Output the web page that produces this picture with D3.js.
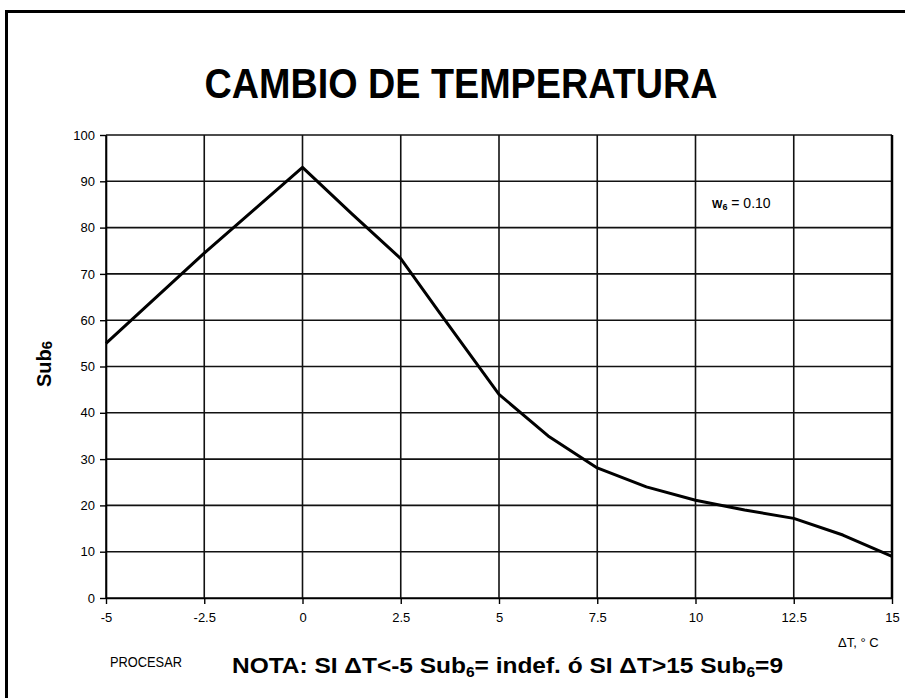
<!DOCTYPE html>
<html>
<head>
<meta charset="utf-8">
<script src="https://cdn.jsdelivr.net/npm/d3@7"></script>
<style>
    body { margin: 0; background: #fff; }
    .tick text { font-family: "Liberation Sans Narrow", "Arial Narrow", "Liberation Sans", sans-serif; font-size: 13px; fill: #000; }
</style>
</head>
<body>
<div id="chart"></div>
<script>
//chart values
const deltaT = [-5, -2.5, 0, 1.25, 2.5, 3.5, 5, 6.25, 7.5, 8.75, 10, 11.25, 12.5, 13.75, 15];
const sub6 = [55, 74.5, 93, 83, 73.3, 61.5, 44, 35, 28.1, 24, 21.1, 19, 17.2, 13.6, 9];
const xTicks = [-5, -2.5, 0, 2.5, 5, 7.5, 10, 12.5, 15];
const yTicks = [0, 10, 20, 30, 40, 50, 60, 70, 80, 90, 100];

const width = 905;
const height = 698;
const margin = { top: 135, left: 106, right: 13, bottom: 100 };

const svg = d3.select("#chart")
    .append("svg")
    .attr("width", width)
    .attr("height", height);

//outer frame (only left and top visible in the picture)
svg.append("rect")
    .attr("x", 6.5)
    .attr("y", 11.5)
    .attr("width", 920)
    .attr("height", 720)
    .attr("fill", "none")
    .attr("stroke", "#000")
    .attr("stroke-width", 3);

const xScale = d3.scaleLinear()
    .domain([-5, 15])
    .range([margin.left, width - margin.right]);

const yScale = d3.scaleLinear()
    .domain([0, 100])
    .range([height - margin.bottom, margin.top]);

//grid
svg.append("g")
    .selectAll("line")
    .data(yTicks)
    .enter()
    .append("line")
    .attr("x1", xScale(-5))
    .attr("x2", xScale(15))
    .attr("y1", d => yScale(d))
    .attr("y2", d => yScale(d))
    .attr("stroke", "#111")
    .attr("stroke-width", 1.6);

svg.append("g")
    .selectAll("line")
    .data(xTicks)
    .enter()
    .append("line")
    .attr("x1", d => xScale(d))
    .attr("x2", d => xScale(d))
    .attr("y1", yScale(0))
    .attr("y2", yScale(100))
    .attr("stroke", "#111")
    .attr("stroke-width", 1.6);

//axes
const xAxis = svg.append("g")
    .attr("transform", `translate(0,${yScale(0)})`)
    .call(d3.axisBottom(xScale).tickValues(xTicks).tickSizeInner(6).tickSizeOuter(0).tickPadding(9).tickFormat(d => d));

const yAxis = svg.append("g")
    .attr("transform", `translate(${xScale(-5)},0)`)
    .call(d3.axisLeft(yScale).tickValues(yTicks).tickSizeInner(6).tickSizeOuter(0).tickPadding(5));

svg.selectAll(".domain").attr("stroke", "#000").attr("stroke-width", 1.6);
svg.selectAll(".tick line").attr("stroke", "#000").attr("stroke-width", 1.4);

//right edge of plot is a bit heavier
svg.append("line")
    .attr("x1", xScale(15))
    .attr("x2", xScale(15))
    .attr("y1", yScale(100))
    .attr("y2", yScale(0))
    .attr("stroke", "#000")
    .attr("stroke-width", 2.5);

//the curve
const line = d3.line()
    .x((d, i) => xScale(deltaT[i]))
    .y(d => yScale(d));

svg.append("path")
    .datum(sub6)
    .attr("d", line)
    .attr("fill", "none")
    .attr("stroke", "#000")
    .attr("stroke-width", 3)
    .attr("stroke-linejoin", "round");

//texts
svg.append("text")
    .attr("x", 461)
    .attr("y", 98)
    .attr("text-anchor", "middle")
    .attr("font-family", "Liberation Sans, Arial, sans-serif")
    .attr("font-weight", "bold")
    .attr("font-size", 42)
    .attr("textLength", 513)
    .attr("lengthAdjust", "spacingAndGlyphs")
    .text("CAMBIO DE TEMPERATURA");

const yLabel = svg.append("text")
    .attr("transform", "translate(51,364) rotate(-90)")
    .attr("text-anchor", "middle")
    .attr("font-family", "Liberation Sans, Arial, sans-serif")
    .attr("font-weight", "bold")
    .attr("font-size", 20);
yLabel.append("tspan").text("Sub");
yLabel.append("tspan").attr("font-size", 15).attr("dy", 1).text("6");

svg.append("text")
    .attr("x", 712)
    .attr("y", 208)
    .attr("font-family", "Liberation Sans, Arial, sans-serif")
    .attr("font-size", 14)
    .html('<tspan font-size="11" font-weight="bold">W</tspan><tspan font-size="9" font-weight="bold" dy="2">6</tspan><tspan dy="-2"> = 0.10</tspan>');

svg.append("text")
    .attr("x", 838)
    .attr("y", 647)
    .attr("font-family", "Liberation Sans, Arial, sans-serif")
    .attr("font-size", 13)
    .text("ΔT, ° C");

svg.append("text")
    .attr("x", 110)
    .attr("y", 667)
    .attr("font-family", "Liberation Sans Narrow, Arial Narrow, Liberation Sans, sans-serif")
    .attr("font-size", 14)
    .attr("textLength", 72)
    .attr("lengthAdjust", "spacingAndGlyphs")
    .text("PROCESAR");

const nota = svg.append("text")
    .attr("x", 232)
    .attr("y", 673)
    .attr("font-family", "Liberation Sans, Arial, sans-serif")
    .attr("font-weight", "bold")
    .attr("font-size", 22)
    .attr("textLength", 551)
    .attr("lengthAdjust", "spacingAndGlyphs");
nota.append("tspan").text("NOTA: SI ΔT<-5 Sub");
nota.append("tspan").attr("font-size", 14).attr("dy", 4).text("6");
nota.append("tspan").attr("dy", -4).text("= indef. ó SI ΔT>15 Sub");
nota.append("tspan").attr("font-size", 14).attr("dy", 4).text("6");
nota.append("tspan").attr("dy", -4).text("=9");
</script>
</body>
</html>
